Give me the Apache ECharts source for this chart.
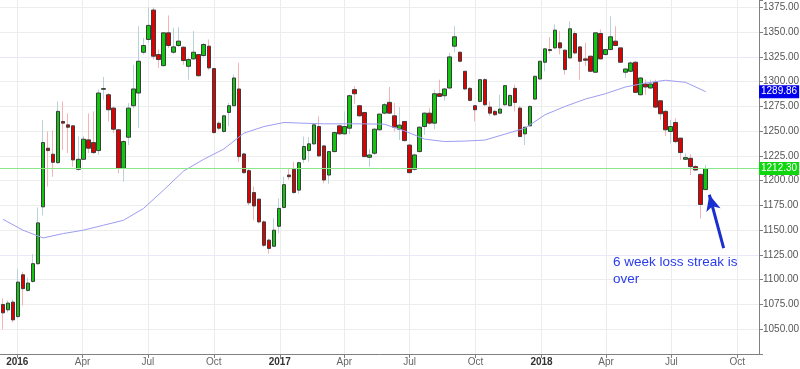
<!DOCTYPE html>
<html><head><meta charset="utf-8">
<script src="https://cdn.jsdelivr.net/npm/echarts@6/dist/echarts.min.js"></script>
<style>html,body{margin:0;padding:0;background:#fff}#c{width:800px;height:369px}</style>
</head><body><div id="c"></div>
<script>
// ---- data (weekly candles, first week 2015-12-12) ----
const firstWeek = '2015-12-12';
const weekOpen = [
1075,1069.6,1077.4,1062.8,1105,1089.2,1098.3,1116.2,1173.6,1232.8,
1226.7,1218.2,1259.8,1256.4,1255.4,1211.5,1221.6,1241.2,1238.5,1230.4,
1292.3,1286.8,1273.3,1251.4,1212.5,1243.9,1275.7,1288.5,1329.7,1342.6,
1372.3,1327.4,1316.2,1349.3,1329.7,1336.5,1334.8,1315.5,1323,1327.4,
1326.4,1335.8,1313.2,1258,1249.7,1268.9,1275.7,1292.6,1227,1210.1,
1188,1181.4,1158.4,1140,1133.8,1154,1173,1205.7,1211.5,1190.5,
1221.6,1230.4,1237.2,1254.7,1235.1,1205.7,1229.4,1255.4,1247.3,1253,
1291.9,1275.7,1268.9,1223.6,1227.7,1251.4,1268.2,1279.1,1265.5,1252,
1259.8,1236,1211.5,1229.4,1254.7,1268.2,1258.1,1287.8,1285.8,1293.6,
1335.8,1329.7,1310.5,1293.2,1275.7,1280.1,1302,1274.3,1270,1268.2,
1276.7,1275.7,1293.2,1273.3,1247.3,1255.4,1282.4,1302.7,1319.6,1332.4,
1334.1,1339.2,1331.8,1324,1348.6,1335.1,1323,1325.7,1309.5,1348.6,
1327.4,1332.4,1340.9,1334.1,1309.5,1310.5,1319.6,1286.8,1297.6,1293.6,
1299.3,1280.7,1270,1249.7,1258.8,1243,1221.6,1222.6,1214.2,1206.4,
1191];
const weekClose = [
1066.6,1076.4,1059.5,1097.6,1091,1096.6,1116.2,1157.4,1238.5,1230.4,
1218.6,1270,1258.1,1254,1221,1221.6,1241.9,1232.8,1228.4,1288.5,
1293,1271.6,1252,1212.5,1239.5,1273.3,1292.6,1320.6,1336.5,1356.8,
1325.7,1322.3,1349.3,1336.5,1335.1,1340.9,1321.3,1322.3,1329.7,1306,
1337.5,1313.9,1248.6,1253,1265.5,1275.7,1303.7,1224.3,1208.1,1177.7,
1174.5,1158.4,1134.8,1131.6,1150,1172,1196,1204,1188,1218.2,
1234.5,1237.2,1256.4,1225,1200.7,1229.4,1248.6,1247.3,1254.7,1285.8,
1287.8,1265.5,1224.3,1226,1252,1267.2,1276.7,1268.2,1254,1256.1,
1240.5,1208.1,1226,1254,1268.2,1258.1,1287.8,1285.1,1292.6,1325,
1345.3,1320.6,1292.6,1281.1,1271.6,1302,1276.7,1268.2,1266.6,1272.3,
1296,1286.1,1279,1244.6,1254,1275,1305.4,1320.6,1333.1,1331.4,
1352,1334.1,1312.2,1353.4,1329,1320.6,1321.6,1310.5,1349.3,1323,
1332.4,1345.3,1336.5,1319.6,1312.8,1318.9,1289.2,1303.7,1294.6,1297.6,
1274.3,1267.6,1251.4,1254.7,1239.5,1228.4,1223.3,1214.2,1210.8,1176,
1212.3];
const weekLow = [
1050,1067,1057,1061,1074,1088,1097,1115,1165,1194,
1204,1217,1231,1228,1214,1210,1221,1228,1227,1226,
1281.8,1259.8,1248,1207.4,1199,1236,1273,1253.4,1327.4,1339.2,
1322.3,1313.9,1315,1334,1328,1335,1317,1302,1322,1305,
1325,1312,1247.5,1251,1248.6,1255,1275,1219,1207,1175,
1160,1157,1133,1126.4,1133,1147,1172,1201,1187,1187,
1218,1219,1236,1224,1197.3,1197,1228.5,1246.5,1246.3,1247,
1277.7,1264.5,1224,1214,1226,1250.5,1267,1267.5,1249.7,1241,
1239.5,1207.4,1210,1228.4,1246.3,1256.4,1252,1284.5,1280.7,1292.6,
1329.7,1319.6,1292,1280.1,1259.8,1279,1275.7,1265.5,1265.5,1267.5,
1275.7,1275,1270,1244,1236,1254.7,1281.8,1302,1310.5,1328.4,
1333,1327.4,1307,1323,1327.4,1302,1315.5,1309.5,1308.8,1322.3,
1326.4,1331.8,1335.8,1318.9,1303.7,1309.5,1288.5,1285.8,1286.8,1292.6,
1273.3,1261.5,1245.3,1237.8,1237.8,1221,1221,1205.7,1210.1,1161.8,
1190.5];
const weekHigh = [
1081,1079,1080,1111,1108,1102,1126,1173,1261.5,1249.7,
1250.7,1280,1280,1268,1256,1244.6,1245,1268,1270,1292,
1304.7,1288.5,1275,1252,1241,1278.4,1317,1356,1344.3,1374.7,
1375,1332.4,1350,1366.9,1354.4,1355,1336,1324,1351,1328,
1339,1342.6,1314,1260,1266.5,1278.4,1307,1319,1228,1212,
1194,1181.4,1160,1141.5,1162,1182,1204,1212.5,1219,1219,
1244.6,1244,1257.5,1264.9,1236,1230,1249.5,1256,1270,1287,
1295.3,1276,1269,1232,1253,1268,1278.4,1294.6,1278.4,1274.3,
1260,1236.5,1227.4,1255,1269,1273.3,1291.9,1302,1293.6,1329,
1356,1330.7,1310.5,1294.6,1275.7,1302,1303.7,1280,1271.6,1286.8,
1296,1286.8,1297,1275.7,1254,1275.7,1306,1320.6,1334,1345,
1357.8,1351,1332.4,1361,1351,1335.8,1339.2,1325.7,1350,1352.7,
1332.4,1366,1356,1334.1,1314,1320.6,1320.6,1304.7,1302,1302,
1302,1281.1,1271.6,1261.5,1263.2,1243,1227.4,1226.7,1215.9,1207,
1215.9];
// moving average, every 4th week
const maWeekIndex = [0,4,8,12,16,20,24,28,32,36,40,44,48,52,56,60,64,68,72,76,80,84,88,92,96,100,104,108,112,116,120,124,128,132,136,140];
const maValues = [1161,1150,1142.2,1146.6,1150,1155,1160,1172,1190.5,1209.8,1221.6,1232,1248,1254.7,1258.8,1258,1257.4,1257.4,1257.4,1257,1250.3,1242,1239.5,1240,1241,1247,1253,1266.6,1275,1282.4,1287.8,1294.6,1298.6,1301.4,1299.3,1289.9];
const quarterTicks = ['2016-01-01','2016-04-01','2016-07-01','2016-10-01','2017-01-01','2017-04-01','2017-07-01','2017-10-01','2018-01-01','2018-04-01','2018-07-01','2018-10-01'];
const monthNames = ['Jan','Feb','Mar','Apr','May','Jun','Jul','Aug','Sep','Oct','Nov','Dec'];
const yRange = [1025, 1382.45];
const lastPrice = 1212.30;
const maLast = 1289.86;
const noteText = '6 week loss streak is\nover';
const arrowFrom = ['2018-09-12', 1131.9];
const arrowTo = ['2018-08-23', 1185.8];
const xRange = ['2015-12-07T21:00:00Z', '2018-10-31T07:00:00Z'];

// ---- build ----
const DAY = 864e5;
const toT = s => Date.parse(s.length === 10 ? s + 'T00:00:00Z' : s);
const t0 = toT(firstWeek);
const weekTimes = weekOpen.map((_, i) => t0 + i * 7 * DAY);
const ohlc = weekTimes.map((t, i) => [t, weekOpen[i], weekClose[i], weekLow[i], weekHigh[i]]);
const bodies = weekTimes.map((t, i) => [t, weekOpen[i], weekClose[i], Math.min(weekOpen[i], weekClose[i]), Math.max(weekOpen[i], weekClose[i])]);
const maData = maWeekIndex.map((w, k) => [weekTimes[w], maValues[k]]);
const qTimes = quarterTicks.map(toT);
const FONT = "'Liberation Sans', Arial, sans-serif";

const boxLabel = (txt, bg) => ({show: true, position: 'end', distance: 0, formatter: txt,
  color: '#fff', backgroundColor: bg, padding: [2, 2, 1, 2], fontFamily: FONT, fontSize: 10});

const chart = echarts.init(document.getElementById('c'), null, {renderer: 'canvas'});
chart.setOption({
  animation: false,
  backgroundColor: '#ffffff',
  grid: {left: 0, right: 41, top: 0, bottom: 15, containLabel: false, outerBoundsMode: 'none'},
  xAxis: {
    type: 'value', min: toT(xRange[0]), max: toT(xRange[1]), scale: true,
    axisLine: {show: true, lineStyle: {color: '#808080', width: 1}},
    axisTick: {show: true, customValues: qTimes, length: 4, lineStyle: {color: '#808080'}},
    axisLabel: {
      customValues: qTimes, margin: 3, fontFamily: FONT, fontSize: 10, color: '#666',
      formatter: v => { const d = new Date(v); const m = d.getUTCMonth();
        return m === 0 ? '{y|' + d.getUTCFullYear() + '}' : monthNames[m]; },
      rich: {y: {fontWeight: 'bold', color: '#333', fontFamily: FONT, fontSize: 10}}
    },
    splitLine: {show: true, lineStyle: {color: '#ececec', width: 1}}
  },
  yAxis: {
    type: 'value', position: 'right', min: yRange[0], max: yRange[1], interval: 25, scale: true,
    axisLine: {show: true, lineStyle: {color: '#808080', width: 1}},
    axisTick: {show: true, length: 4, lineStyle: {color: '#808080'}},
    axisLabel: {margin: 4, fontFamily: FONT, fontSize: 10, color: '#555',
      formatter: v => (v > 1025 && v % 25 === 0) ? v.toFixed(2) : ''},
    splitLine: {show: true, showMaxLine: false, lineStyle: {color: ['#ededed','#ededed','#ededed','#ededed','#e8e8fa','#ededed','#ededed','#ededed'], width: 1}}
  },
  series: [
    {
      name: 'wicks', type: 'candlestick', data: ohlc, encode: {x: 0, y: [1, 2, 3, 4]},
      barWidth: 1, silent: true,
      itemStyle: {color: '#b8d2da', color0: '#f4b4b4', borderColor: '#b8d2da', borderColor0: '#f4b4b4', borderWidth: 1}
    },
    {
      name: 'bodies', type: 'candlestick', data: bodies, encode: {x: 0, y: [1, 2, 3, 4]},
      barWidth: 4, silent: true,
      itemStyle: {color: '#0dc80d', color0: '#e00000', borderColor: '#3c3c3c', borderColor0: '#3c3c3c', borderWidth: 1}
    },
    {
      name: 'MA', type: 'line', data: maData, showSymbol: false, symbol: 'none', smooth: false,
      lineStyle: {color: '#9d9df2', width: 1}, silent: true, z: 3,
      markLine: {
        silent: true, animation: false, symbol: ['none', 'none'],
        data: [
          {yAxis: lastPrice, lineStyle: {color: '#8ae88a', width: 1, type: 'solid'},
            label: boxLabel(lastPrice.toFixed(2), '#0fd60f')},
          {yAxis: maLast, lineStyle: {color: 'rgba(0,0,0,0)', width: 0},
            label: boxLabel(maLast.toFixed(2), '#0000ee')},
          [{coord: [toT(arrowFrom[0]), arrowFrom[1]], symbol: 'none'},
           {coord: [toT(arrowTo[0]), arrowTo[1]], symbol: 'arrow', symbolSize: [11, 16]}]
        ],
        lineStyle: {color: '#1a2fd0', width: 3, type: 'solid'},
        label: {show: false}
      }
    }
  ],
  graphic: [{
    type: 'text', left: 613, top: 254, z: 100,
    style: {text: noteText, fill: '#2a3ceb', font: '13.5px "Liberation Sans", Arial, sans-serif', lineHeight: 16.6}
  }]
});
</script></body></html>
